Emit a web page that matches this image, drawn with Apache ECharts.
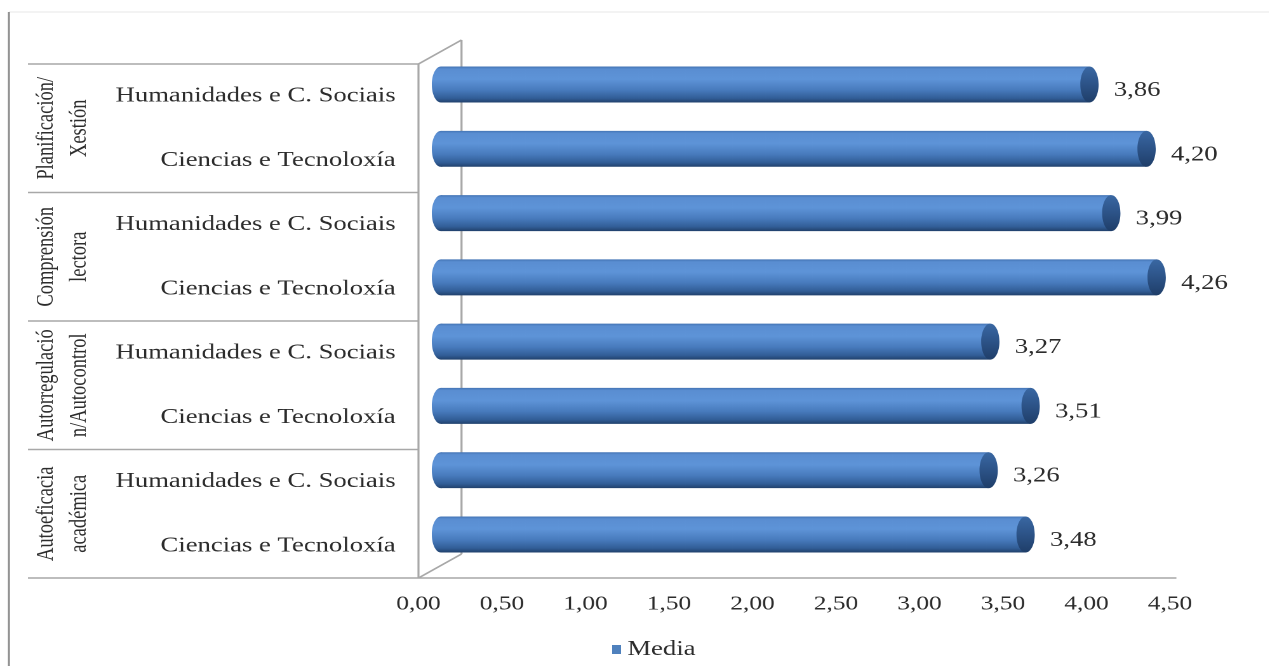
<!DOCTYPE html>
<html>
<head>
<meta charset="utf-8">
<script src="https://cdn.jsdelivr.net/npm/echarts@6/dist/echarts.min.js"></script>
<style>
  html, body { margin: 0; padding: 0; background: #fff; overflow: hidden; }
  /* the chart is laid out narrow and widened horizontally */
  #chart { width: 999px; height: 666px; transform: scaleX(1.27); transform-origin: 0 0; }
</style>
</head>
<body>
<div id="chart"></div>
<script>
// ---- data ----
const categories = [
  'Humanidades e C. Sociais', 'Ciencias e Tecnoloxía',
  'Humanidades e C. Sociais', 'Ciencias e Tecnoloxía',
  'Humanidades e C. Sociais', 'Ciencias e Tecnoloxía',
  'Humanidades e C. Sociais', 'Ciencias e Tecnoloxía'
];
const groups = [
  'Planificación/\nXestión',
  'Comprensión\nlectora',
  'Autorregulació\nn/Autocontrol',
  'Autoeficacia\nacadémica'
];
const seriesName = 'Media';
const media = [3.86, 4.20, 3.99, 4.26, 3.27, 3.51, 3.26, 3.48];
const axisMin = 0, axisMax = 4.5, axisStep = 0.5;

// ---- style ----
const SERIF = '"Liberation Serif", "Times New Roman", serif';
const TEXT = '#2c2c2c';
const LINE = '#a8a8a8';
const DEPTH_X = 33.9, DEPTH_Y = -24;   // offset of the back wall
const fmt = v => v.toFixed(2).replace('.', ',');

const chart = echarts.init(document.getElementById('chart'), null, { renderer: 'canvas', devicePixelRatio: 2 });

function bodyFill() {
  return new echarts.graphic.LinearGradient(0, 0, 0, 1, [
    { offset: 0, color: '#4474b4' },
    { offset: 0.07, color: '#5a8ed2' },
    { offset: 0.35, color: '#5e94d8' },
    { offset: 0.65, color: '#487bbd' },
    { offset: 0.88, color: '#325e97' },
    { offset: 1, color: '#21416c' }
  ]);
}
function capFill() {
  return new echarts.graphic.LinearGradient(0, 0, 0, 1, [
    { offset: 0, color: '#3a68a3' },
    { offset: 0.4, color: '#2f578d' },
    { offset: 1, color: '#1f3e69' }
  ]);
}

// horizontal cylinder from 0 to the value
function renderCylinder(params, api) {
  const v = api.value(0), idx = api.value(1);
  const p0 = api.coord([0, idx]);
  const p1 = api.coord([v, idx]);
  const h = api.size([0, 1])[1] * 0.56;
  const ry = h / 2, rx = h * 0.2;
  const cy = p0[1];
  return {
    type: 'group',
    children: [
      { type: 'ellipse', shape: { cx: p0[0], cy: cy, rx: rx, ry: ry }, style: { fill: bodyFill() } },
      { type: 'rect', shape: { x: p0[0], y: cy - ry, width: p1[0] - p0[0], height: h }, style: { fill: bodyFill() } },
      { type: 'ellipse', shape: { cx: p1[0], cy: cy, rx: rx, ry: ry }, style: { fill: capFill() } },
      { type: 'text', x: p1[0] + rx + 12, y: cy + 6,
        style: { text: fmt(v), font: '21px ' + SERIF, fill: TEXT, verticalAlign: 'middle', align: 'left' } }
    ]
  };
}

chart.setOption({
  backgroundColor: '#fff',
  animation: false,
  grid: [
    { left: 329.5, top: 64, width: 591.8, height: 514 },      // front plane: axis labels
    { left: 347.2, top: 52.4, width: 595.3, height: 514.2 }   // mid depth: cylinders
  ],
  xAxis: [
    { gridIndex: 0, type: 'value', min: axisMin, max: axisMax, interval: axisStep,
      axisLine: { show: false }, axisTick: { show: false }, splitLine: { show: false },
      axisLabel: { formatter: fmt, margin: 16, color: TEXT, fontFamily: SERIF, fontSize: 20 } },
    { gridIndex: 1, type: 'value', min: axisMin, max: axisMax, show: false }
  ],
  yAxis: [
    { gridIndex: 0, type: 'category', data: categories, inverse: true,
      axisLine: { show: false }, axisTick: { show: false }, splitLine: { show: false },
      axisLabel: { interval: 0, margin: 18, padding: [5, 0, 0, 0], color: TEXT, fontFamily: SERIF, fontSize: 21 } },
    { gridIndex: 1, type: 'category', data: categories, inverse: true, show: false }
  ],
  legend: {
    data: [{ name: seriesName, icon: 'rect' }],
    left: 477, top: 634, itemWidth: 7, itemHeight: 9,
    textStyle: { color: TEXT, fontFamily: SERIF, fontSize: 21 }
  },
  series: [{
    name: seriesName,
    type: 'custom',
    xAxisIndex: 1, yAxisIndex: 1,
    z: 5,
    itemStyle: { color: '#4f81bd' },
    renderItem: renderCylinder,
    data: media.map((v, i) => [v, i])
  }]
});

// ---- frame, category table and 3D walls, placed from the axes ----
const cy = i => chart.convertToPixel({ yAxisIndex: 0 }, i);
const band = cy(1) - cy(0);
const yTop = cy(0) - band / 2;
const yBottom = cy(categories.length - 1) + band / 2;
const xf0 = chart.convertToPixel({ xAxisIndex: 0 }, axisMin);
const xfEnd = chart.convertToPixel({ xAxisIndex: 0 }, axisMax);
const tableLeft = 22;

const line = (x1, y1, x2, y2, stroke, z) => ({
  type: 'line', z: z == null ? 1 : z, silent: true,
  shape: { x1, y1, x2, y2 }, style: { stroke: stroke || LINE, lineWidth: 1.6 }
});

const elements = [
  line(7, 12, 999, 12, '#efefef'),
  line(7, 12, 7, 666, '#8e8e8e'),
  line(xf0, yTop, xf0, yBottom),
  line(xf0, yTop, xf0 + DEPTH_X, yTop + DEPTH_Y),
  line(xf0, yBottom, xf0 + DEPTH_X, yBottom + DEPTH_Y),
  line(xf0 + DEPTH_X, yTop + DEPTH_Y, xf0 + DEPTH_X, yBottom + DEPTH_Y, LINE, 0),
  line(tableLeft, yBottom, xfEnd + 5, yBottom)
];
groups.forEach((g, k) => {
  const yStart = cy(2 * k) - band / 2;
  const yMid = (cy(2 * k) + cy(2 * k + 1)) / 2;
  elements.push(line(tableLeft, yStart, xf0, yStart));
  elements.push({
    type: 'text', silent: true, x: 49.5, y: yMid, rotation: Math.PI / 2,
    style: { text: g, font: '18.5px ' + SERIF, lineHeight: 26, fill: TEXT, align: 'center', verticalAlign: 'middle' }
  });
});
chart.setOption({ graphic: elements });
</script>
</body>
</html>
